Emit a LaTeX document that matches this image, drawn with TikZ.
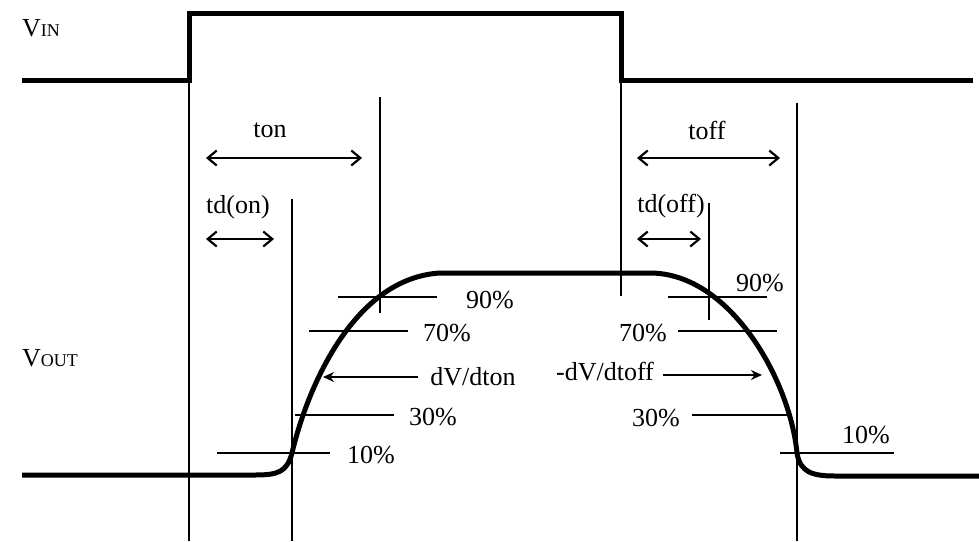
\documentclass[tikz,border=0pt]{standalone}
\usepackage{fontspec}
\setmainfont{Liberation Serif}
\usetikzlibrary{arrows.meta}

\tikzset{
	wave/.style={line width=5pt},
	guide/.style={line width=1.4pt},
	span/.style={line width=2.2pt,{Straight Barb[length=9pt,width=15pt]}-{Straight Barb[length=9pt,width=15pt]}},
	slope/.style={line width=2.2pt,-{Stealth[length=11pt,width=10pt]}},
	lbl/.style={inner sep=0pt,font=\fontsize{26}{30}\selectfont}
}

\begin{document}
\begin{tikzpicture}[x=1pt,y=-1pt]
			\useasboundingbox (0,0) rectangle (979,541);

			% signals
			\draw [wave] (22,80) -- (189,80) -- (189,13) -- (621,13) -- (621,80) -- (973,80);
			\draw [wave] (22,475) -- (255,475)
				.. controls (278,475) and (287,472) .. (292,453)
				.. controls (308,385) and (355,278) .. (440,273)
				-- (650,273)
				.. controls (730,273) and (790,380) .. (797,453)
				.. controls (800,472) and (812,476) .. (835,476)
				-- (979,476);

			\begin{scope}[every node/.style={lbl}]
				\node [anchor=west] (vin) at (22,28) {V{\fontsize{18}{20}\selectfont IN}};
				\node [anchor=west] (vout) at (22,358) {V{\fontsize{18}{20}\selectfont OUT}};
				\node (ton) at (270,130) {ton};
				\node (tdon) at (238,207) {td(on)};
				\node (toff) at (707,130) {toff};
				\node (tdoff) at (671,206) {td(off)};
				\node (l90a) at (490,300) {90\%};
				\node (l70a) at (447,333) {70\%};
				\node (ldva) at (473,377) {dV/dton};
				\node (l30a) at (433,417) {30\%};
				\node (l10a) at (371,455) {10\%};
				\node (l90b) at (760,283) {90\%};
				\node (l70b) at (643,333) {70\%};
				\node (ldvb) at (605,372) {-dV/dtoff};
				\node (l30b) at (656,418) {30\%};
				\node (l10b) at (866,435) {10\%};
			\end{scope}

			% time markers
			\coordinate (g1a) at (189,82);  \coordinate (g1b) at (189,541);
			\coordinate (g2a) at (292,199); \coordinate (g2b) at (292,541);
			\coordinate (g3a) at (380,97);  \coordinate (g3b) at (380,313);
			\coordinate (g4a) at (621,82);  \coordinate (g4b) at (621,296);
			\coordinate (g5a) at (709,203); \coordinate (g5b) at (709,320);
			\coordinate (g6a) at (797,103); \coordinate (g6b) at (797,541);

			% level marks
			\coordinate (h90a) at (338,297); \coordinate (h90b) at (437,297);
			\coordinate (h70a) at (309,331); \coordinate (h70b) at (408,331);
			\coordinate (h30a) at (295,415); \coordinate (h30b) at (394,415);
			\coordinate (h10a) at (217,453); \coordinate (h10b) at (330,453);
			\coordinate (k90a) at (668,297); \coordinate (k90b) at (767,297);
			\coordinate (k70a) at (678,331); \coordinate (k70b) at (777,331);
			\coordinate (k30a) at (692,415); \coordinate (k30b) at (792,415);
			\coordinate (k10a) at (780,453); \coordinate (k10b) at (894,453);

			% arrow ends
			\coordinate (tona) at (206,158);  \coordinate (tonb) at (362,158);
			\coordinate (tdona) at (206,239); \coordinate (tdonb) at (274,239);
			\coordinate (toffa) at (637,158); \coordinate (toffb) at (780,158);
			\coordinate (tdoffa) at (637,239); \coordinate (tdoffb) at (701,239);
			\coordinate (dva) at (418,377);  \coordinate (dvb) at (323,377);
			\coordinate (dvc) at (663,375);  \coordinate (dvd) at (762,375);

			\begin{scope}[every edge/.style={draw,guide}]
				\path (g1a) edge (g1b) (g2a) edge (g2b) (g3a) edge (g3b)
					(g4a) edge (g4b) (g5a) edge (g5b) (g6a) edge (g6b);
				\path (h90a) edge (h90b) (h70a) edge (h70b) (h30a) edge (h30b) (h10a) edge (h10b)
					(k90a) edge (k90b) (k70a) edge (k70b) (k30a) edge (k30b) (k10a) edge (k10b);
			\end{scope}

			\draw [span] (tona) -- (tonb);
			\draw [span] (tdona) -- (tdonb);
			\draw [span] (toffa) -- (toffb);
			\draw [span] (tdoffa) -- (tdoffb);
			\draw [slope] (dva) -- (dvb);
			\draw [slope] (dvc) -- (dvd);
		\end{tikzpicture}
\end{document}
